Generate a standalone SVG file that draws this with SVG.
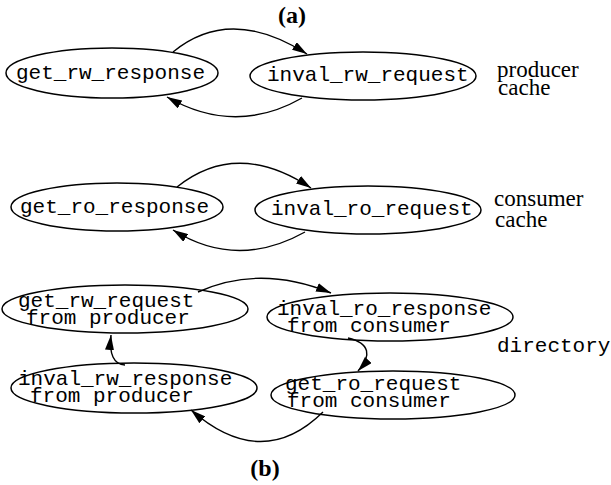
<svg xmlns="http://www.w3.org/2000/svg" width="611" height="485" viewBox="0 0 611 485">
  <style>
    .state { fill: #fff; stroke: #000; stroke-width: 1.5; }
    .mono { font-family: "Liberation Mono", "Courier New", monospace; font-size: 21px; fill: #000; }
    .label { font-family: "Liberation Serif", "Times New Roman", serif; font-size: 23px; fill: #000; }
    .caption { font-family: "Liberation Serif", "Times New Roman", serif; font-size: 24px; font-weight: bold; fill: #000; text-anchor: middle; }
    .edge { fill: none; stroke: #000; stroke-width: 1.4; marker-end: url(#head); }
  </style>
  <defs>
    <marker id="head" markerUnits="userSpaceOnUse" markerWidth="16" markerHeight="9" refX="15" refY="4.5" orient="auto">
      <path d="M0,0 L15,4.5 L0,9 z" fill="#000"/>
    </marker>
  </defs>

  <rect width="611" height="485" fill="#fff"/>

  <text class="caption" x="292" y="23">(a)</text>
  <text class="caption" x="265" y="476">(b)</text>

  <!-- producer cache -->
  <g id="get_rw_response">
    <ellipse class="state" cx="112" cy="73" rx="106" ry="25"/>
    <text class="mono" x="16" y="79">get_rw_response</text>
  </g>
  <g id="inval_rw_request">
    <ellipse class="state" cx="363" cy="76" rx="113" ry="24"/>
    <text class="mono" x="267" y="81">inval_rw_request</text>
  </g>
  <g id="producer_cache_label">
    <text class="label" x="497" y="77">producer</text>
    <text class="label" x="498" y="95">cache</text>
  </g>

  <!-- consumer cache -->
  <g id="get_ro_response">
    <ellipse class="state" cx="117" cy="207" rx="106" ry="24"/>
    <text class="mono" x="20" y="213">get_ro_response</text>
  </g>
  <g id="inval_ro_request">
    <ellipse class="state" cx="368" cy="210" rx="113" ry="24"/>
    <text class="mono" x="271" y="215">inval_ro_request</text>
  </g>
  <g id="consumer_cache_label">
    <text class="label" x="494" y="206">consumer</text>
    <text class="label" x="495" y="227">cache</text>
  </g>

  <!-- directory -->
  <g id="get_rw_request">
    <ellipse class="state" cx="125" cy="309" rx="123" ry="24"/>
    <text class="mono" x="18" y="307">get_rw_request</text>
    <text class="mono" x="26" y="324">from producer</text>
  </g>
  <g id="inval_ro_response">
    <ellipse class="state" cx="390" cy="317" rx="123" ry="24"/>
    <text class="mono" x="277" y="315">inval_ro_response</text>
    <text class="mono" x="287" y="332">from consumer</text>
  </g>
  <g id="inval_rw_response">
    <ellipse class="state" cx="134" cy="388" rx="123" ry="25"/>
    <text class="mono" x="18" y="385">inval_rw_response</text>
    <text class="mono" x="30" y="402">from producer</text>
  </g>
  <g id="get_ro_request">
    <ellipse class="state" cx="393" cy="395" rx="122" ry="24"/>
    <text class="mono" x="285" y="390">get_ro_request</text>
    <text class="mono" x="287" y="407">from consumer</text>
  </g>
  <g id="directory_label">
    <text class="mono" x="497" y="352">directory</text>
  </g>

  <g id="connectors">
    <path class="edge" d="M173,52 Q230,5 307,54"/>
    <path class="edge" d="M302,98 Q235,136 167,97"/>
    <path class="edge" d="M177,187 Q237,139 311,188"/>
    <path class="edge" d="M305,232 Q237,270 173,230"/>
    <path class="edge" d="M198,292 Q260,264 331,293"/>
    <path class="edge" d="M348,338 C370,343 372,356 358,371"/>
    <path class="edge" d="M323,412 Q262,472 191,410"/>
    <path class="edge" d="M125,365 Q108,364 111,335"/>
  </g>
</svg>
